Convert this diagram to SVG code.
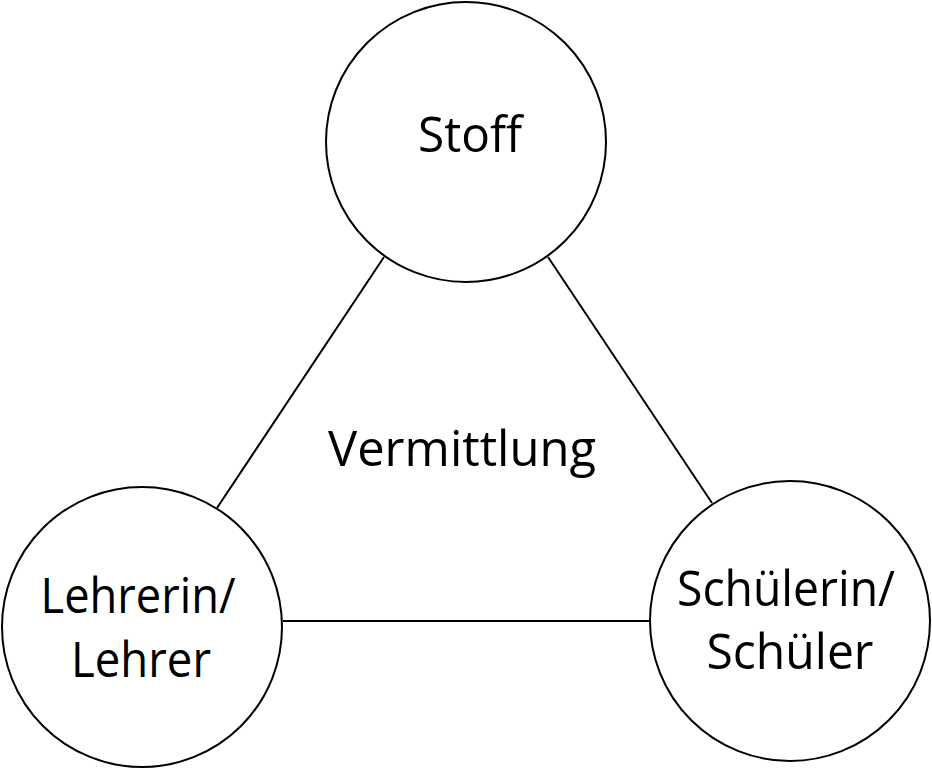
<svg xmlns="http://www.w3.org/2000/svg" width="932" height="769" viewBox="0 0 932 769">
<style>
.n{fill:#fff;stroke:#000;stroke-width:2}
.c{stroke:#000;stroke-width:2;fill:none}
text{font-family:"Open Sans","Noto Sans",sans-serif;font-size:50px;fill:#000;text-anchor:middle}
</style>
<rect width="932" height="769" fill="#fff"/>
<g id="connectors">
<line class="c" x1="384" y1="257" x2="217" y2="508"/>
<line class="c" x1="548" y1="257" x2="712" y2="503"/>
<line class="c" x1="283" y1="621" x2="650" y2="621"/>
</g>
<g id="stoff">
<circle class="n" cx="466" cy="142" r="140"/>
<text x="470" y="152" textLength="104" lengthAdjust="spacingAndGlyphs">Stoff</text>
</g>
<g id="lehrer">
<circle class="n" cx="142" cy="627" r="140"/>
<text x="138" y="613" textLength="195" lengthAdjust="spacingAndGlyphs">Lehrerin/</text>
<text x="141" y="677" textLength="140" lengthAdjust="spacingAndGlyphs">Lehrer</text>
</g>
<g id="schueler">
<circle class="n" cx="790" cy="621" r="140"/>
<text x="786" y="606" textLength="218" lengthAdjust="spacingAndGlyphs">Schülerin/</text>
<text x="790" y="669" textLength="167" lengthAdjust="spacingAndGlyphs">Schüler</text>
</g>
<g id="vermittlung">
<text x="462" y="466" textLength="268" lengthAdjust="spacingAndGlyphs">Vermittlung</text>
</g>
</svg>
